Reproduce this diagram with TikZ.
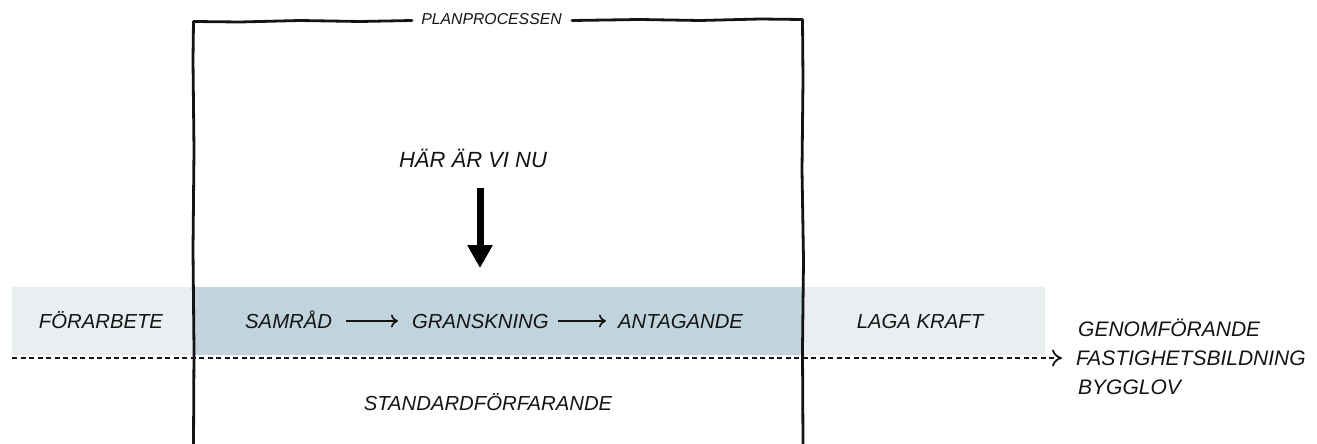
\documentclass[tikz,border=0pt]{standalone}
\usepackage{fontspec}
\setmainfont{Liberation Sans}
\usetikzlibrary{arrows.meta}
\definecolor{bandlight}{RGB}{233,238,241}
\definecolor{banddark}{RGB}{193,212,221}
\definecolor{ink}{RGB}{20,20,20}
\tikzset{
  lbl/.style={font=\fontsize{20.3}{24}\selectfont\itshape, text=ink, inner sep=0pt},
  rlbl/.style={font=\fontsize{21}{25}\selectfont\itshape, text=ink, inner sep=0pt, anchor=base west},
  small/.style={font=\fontsize{15.8}{18}\selectfont\itshape, text=ink, inner sep=0pt},
  frame/.style={draw=ink, line width=2.8pt, line join=round, line cap=round},
  flow/.style={draw=ink, line width=1.8pt, -{To[length=7pt,width=13pt,line width=1.6pt]}},
  dashline/.style={draw=ink, line width=2.2pt, dash pattern=on 5pt off 3.5pt, -{To[length=10pt,width=17pt,line width=1.8pt]}},
  bigarrow/.style={draw=black, line width=7pt, -{Triangle[length=23pt,width=24pt]}}
}
\begin{document}
\begin{tikzpicture}[x=1pt,y=-1pt]
\useasboundingbox (0,0) rectangle (1317,444);
% bands
\fill[bandlight] (12,287) rectangle (1045,355);
\fill[banddark] (193,287) rectangle (803,355);
% frame (hand drawn look)
\node[small] (plan) at (491.5,19.5) {PLANPROCESSEN};
\draw[frame] (412,20.5) -- (360,21.5) -- (300,20.5) -- (240,22) -- (193.5,21.5) -- (193,60) -- (194,150) -- (193,250) -- (194,350) -- (193.5,444);
\draw[frame] (572,20.5) -- (640,19.5) -- (700,20.5) -- (760,19) -- (802.5,19.5) -- (803,80) -- (802,170) -- (803.5,260) -- (802.5,350) -- (803,444);
% texts
\node[lbl, anchor=base] (forarbete) at (101,328) {FÖRARBETE};
\node[lbl, anchor=base west] (samrad) at (245,328) {SAMRÅD};
\node[lbl, anchor=base west] (gransk) at (412,328) {GRANSKNING};
\node[lbl, anchor=base west] (antag) at (618,328) {ANTAGANDE};
\node[lbl, anchor=base] (laga) at (920,328) {LAGA KRAFT};
\node[lbl, anchor=base] (standard) at (488,410) {STANDARDFÖRFARANDE};
\node[rlbl] (genom) at (1078,336) {GENOMFÖRANDE};
\node[rlbl] (fast) at (1076,365) {FASTIGHETSBILDNING};
\node[rlbl] (bygg) at (1078,394) {BYGGLOV};
\node[lbl, anchor=base, font=\fontsize{22}{26}\selectfont\itshape] (har) at (473,167) {HÄR ÄR VI NU};
% flow arrows
\draw[flow] ([xshift=14pt,yshift=7pt]samrad.base east) -- ([xshift=-14pt,yshift=7pt]gransk.base west);
\draw[flow] ([xshift=9pt,yshift=7pt]gransk.base east) -- ([xshift=-12pt,yshift=7pt]antag.base west);
% dashed timeline
\coordinate (dstart) at (12,358);
\draw[dashline] (dstart) -- ([xshift=-14pt]fast.west |- dstart);
% here arrow
\coordinate (hartop) at (480,188);
\coordinate (harbot) at (480,268);
\draw[bigarrow] (hartop) -- (harbot);
\end{tikzpicture}
\end{document}
